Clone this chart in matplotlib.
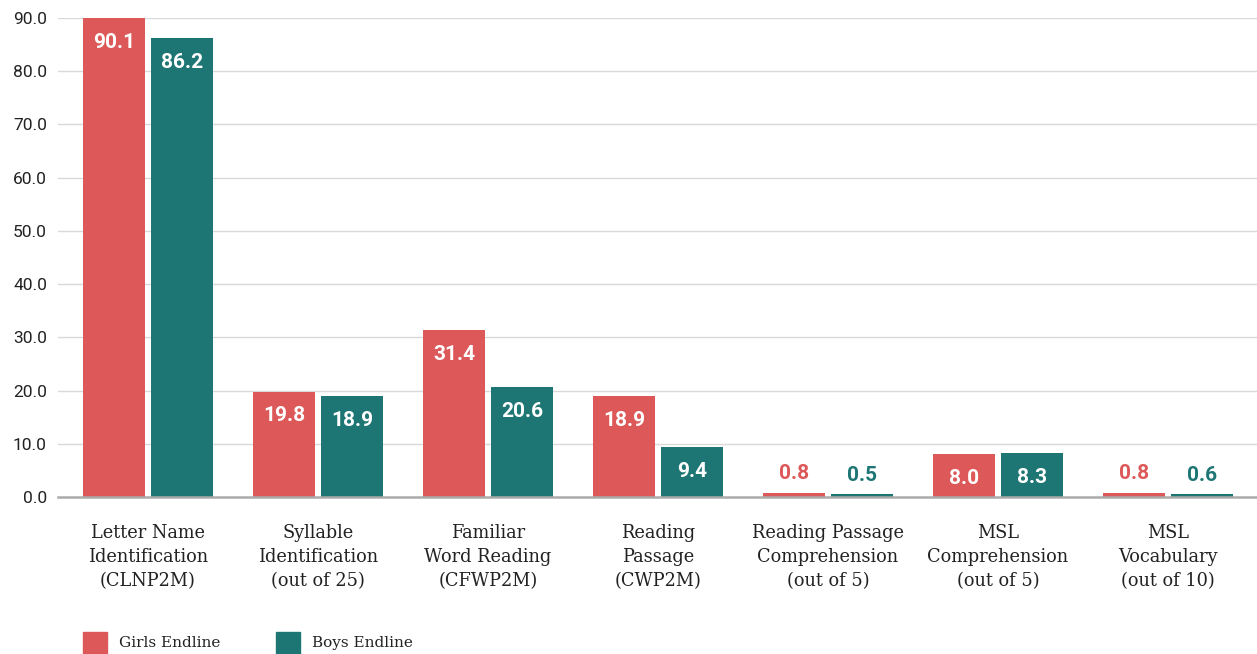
import matplotlib
matplotlib.use("Agg")
import matplotlib.pyplot as plt
from matplotlib.patches import Rectangle
import numpy as np

categories = ["Letter Name\nIdentification\n(CLNP2M)",
              "Syllable\nIdentification\n(out of 25)",
              "Familiar\nWord Reading\n(CFWP2M)",
              "Reading\nPassage\n(CWP2M)",
              "Reading Passage\nComprehension\n(out of 5)",
              "MSL\nComprehension\n(out of 5)",
              "MSL\nVocabulary\n(out of 10)"]
girls = [90.1, 19.8, 31.4, 18.9, 0.8, 8.0, 0.8]
boys = [86.2, 18.9, 20.6, 9.4, 0.5, 8.3, 0.6]
series_names = ["Girls Endline", "Boys Endline"]
yticks = [0, 10, 20, 30, 40, 50, 60, 70, 80, 90]

RED = "#DD5858"
TEAL = "#1E7674"
colors = [RED, TEAL]

fig = plt.figure(figsize=(12.57, 6.54), dpi=100)
ax = fig.add_axes([58/1257, 1-497/654, 1-58/1257, (497-18)/654])

x = np.arange(len(categories))
bw = 0.365
off = 0.2
for vals, sgn, col in [(girls, -1, RED), (boys, 1, TEAL)]:
    bars = ax.bar(x + sgn*off, vals, width=bw, color=col, zorder=3)
    for b, v in zip(bars, vals):
        cx = b.get_x() + b.get_width()/2
        top = min(v, 90)
        if v >= 5:
            ax.annotate(f"{v:.1f}", (cx, top), xytext=(0, -17.5), textcoords="offset points",
                        ha="center", va="center", color="white", fontsize=15,
                        fontweight="bold", family="Roboto", zorder=4,
                        annotation_clip=False)
        else:
            ax.annotate(f"{v:.1f}", (cx, v), xytext=(0, 13.5), textcoords="offset points",
                        ha="center", va="center", color=col, fontsize=15,
                        fontweight="bold", family="Roboto", zorder=4,
                        annotation_clip=False)

ax.set_xlim(-(148-58)/170, 6 + (1257-1168)/170)
ax.set_ylim(0, 90)
ax.set_yticks(yticks)
ax.set_yticklabels([f"{t:.1f}" for t in yticks], family="Roboto", fontsize=12.5, color="#222222")
ax.set_xticks(x)
ax.set_xticklabels(categories, family="DejaVu Serif", fontsize=12.8, color="#222222", linespacing=1.42)
ax.tick_params(axis="both", length=0)
ax.tick_params(axis="y", pad=8)
ax.tick_params(axis="x", pad=19.5)
ax.grid(axis="y", color="#D9D9D9", linewidth=1, zorder=0)
for s in ["top", "right", "left"]:
    ax.spines[s].set_visible(False)
ax.spines["bottom"].set_color("#AAAAAA")
ax.spines["bottom"].set_linewidth(1.8)
ax.spines["bottom"].set_zorder(5)
ax.yaxis.get_gridlines()[0].set_visible(False)

# legend
for i, (name, col) in enumerate(zip(series_names, colors)):
    x0 = 83 + i*193
    fig.patches.append(Rectangle((x0/1257, 0), 24/1257, 22/654,
                                 transform=fig.transFigure, color=col, figure=fig))
    fig.text((x0+36)/1257, 1-643/654, name, family="DejaVu Serif", fontsize=11,
             color="#222222", va="center", ha="left")

fig.savefig("out.png", dpi=100)
